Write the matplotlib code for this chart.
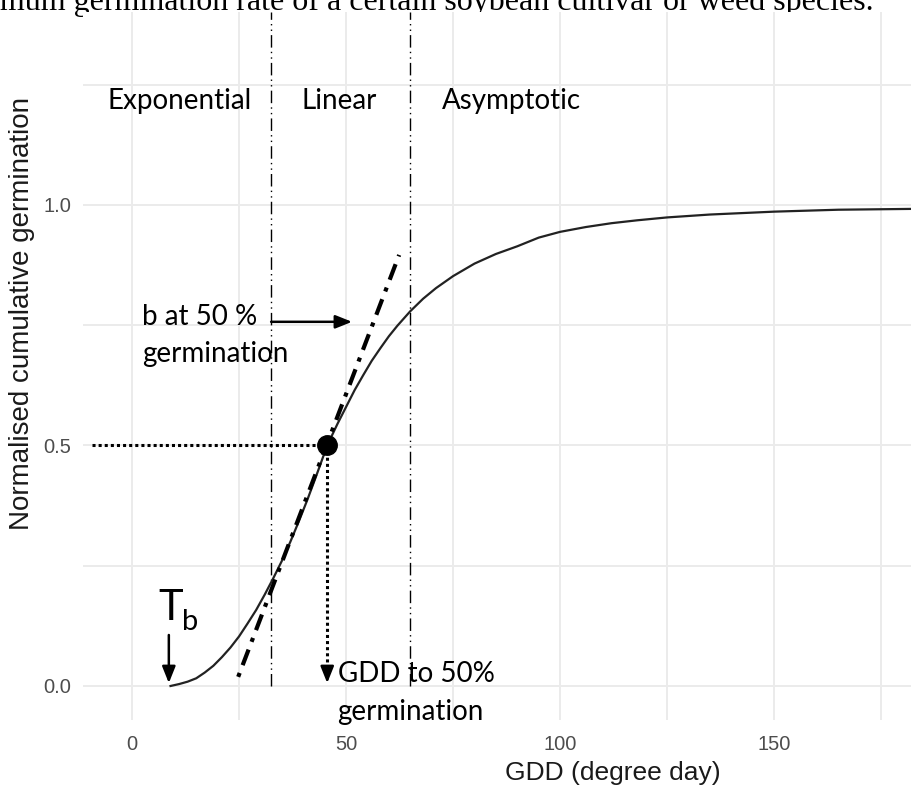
import matplotlib
matplotlib.use('Agg')
import matplotlib.pyplot as plt

# germination curve
gdd = [9, 11, 13, 15, 17, 19, 21, 23, 25, 27, 29, 31, 33, 35, 37, 39, 41, 43, 45.6,
       48, 50, 52, 54, 56, 58, 60, 62, 65, 68, 71, 75, 80, 85, 90, 95, 100, 106, 112,
       118, 125, 135, 150, 165, 185]
germ = [0, 0.004, 0.009, 0.016, 0.028, 0.042, 0.06, 0.08, 0.103, 0.13, 0.158, 0.19, 0.224,
        0.26, 0.3, 0.343, 0.388, 0.436, 0.5,
        0.545, 0.58, 0.615, 0.646, 0.676, 0.702, 0.727, 0.749, 0.779, 0.805, 0.827, 0.852,
        0.878, 0.898, 0.914, 0.932, 0.944, 0.954, 0.962, 0.968, 0.974, 0.98, 0.986, 0.99,
        0.992]

# tangent at 50 % germination
tan_x = [24.8, 62.4]
tan_y = [0.019, 0.896]

t_base = 8.6        # base temperature point
gdd50 = 45.6        # GDD to 50 % germination
phase_bounds = [32.5, 65]

phase_names = ['Exponential', 'Linear', 'Asymptotic']
phase_x = [-5.8, 39.7, 72.4]

x_major = [0, 50, 100, 150]
x_minor = [25, 75, 125, 175]
y_major = [0, 0.5, 1.0]
y_labels = ['0.0', '0.5', '1.0']
y_minor = [0.25, 0.75, 1.25]

caption = 'imum germination rate of a certain soybean cultivar or weed species.'

W, H = 912, 785
fig = plt.figure(figsize=(W / 100, H / 100), dpi=100)
ax = fig.add_axes([83 / W, 65 / H, 829 / W, 708 / H])
ax.set_zorder(5)

ax.set_xlim(-11.45, 182.2)
ax.set_ylim(-0.0707, 1.401)

ax.set_xticks(x_major)
ax.set_xticks(x_minor, minor=True)
ax.set_yticks(y_major)
ax.set_yticklabels(y_labels)
ax.set_yticks(y_minor, minor=True)
ax.grid(True, which='both', color='#EBEBEB', lw=1.4)
ax.set_axisbelow(True)
for s in ax.spines.values():
    s.set_visible(False)
ax.tick_params(which='both', length=0)
ax.tick_params(axis='x', pad=10.5, labelsize=14.5, labelcolor='#4D4D4D')
ax.tick_params(axis='y', pad=8.5, labelsize=14.5, labelcolor='#4D4D4D')
for lab in ax.get_xticklabels() + ax.get_yticklabels():
    lab.set_fontfamily('Liberation Sans')

# phase boundaries
for xb in phase_bounds:
    ax.plot([xb, xb], [0, 1.401], color='black', lw=1.0, dashes=(9, 3, 1, 3, 1, 3))

# curve
ax.plot(gdd, germ, color='#222222', lw=1.6, zorder=3)

# tangent
ax.plot(tan_x, tan_y, color='black', lw=3, dashes=(1, 2, 4, 2), dash_capstyle='butt', zorder=4)

# 50 % guides
ax.plot([-9.3, gdd50], [0.5, 0.5], color='black', lw=2.2, dashes=(1, 1), zorder=4)
ax.plot([gdd50, gdd50], [0.5, 0.03], color='black', lw=2.2, dashes=(1, 1), zorder=4)
ax.plot(gdd50, 0.5, 'o', color='black', ms=14, zorder=6)

arrow = dict(arrowstyle='-|>,head_length=0.5,head_width=0.2', lw=1.8, color='black',
             shrinkA=0, shrinkB=0, mutation_scale=20)
ax.annotate('', xy=(gdd50, 0.006), xytext=(gdd50, 0.036), arrowprops=arrow)
ax.annotate('', xy=(t_base, 0.006), xytext=(t_base, 0.106), arrowprops=arrow)
ax.annotate('', xy=(51.4, 0.757), xytext=(32.5, 0.757), arrowprops=arrow)

fnt = 'Lato'
for name, px in zip(phase_names, phase_x):
    ax.text(px, 1.2, name, fontsize=20, family=fnt, va='baseline', zorder=7)
ax.text(2.3, 0.7505, 'b at 50 %', fontsize=20, family=fnt, va='baseline', zorder=7)
ax.text(2.3, 0.674, 'germination', fontsize=20, family=fnt, va='baseline', zorder=7)
ax.text(48.1, 0.0083, 'GDD to 50%', fontsize=20, family=fnt, va='baseline', zorder=7)
ax.text(47.9, -0.0707, 'germination', fontsize=20, family=fnt, va='baseline', zorder=7)
ax.text(6.1, 0.137, 'T', fontsize=30, family=fnt, va='baseline', zorder=7)
ax.text(11.7, 0.116, 'b', fontsize=21, family=fnt, va='baseline', zorder=7)

fig.text(613 / W, 1 - 773 / H, 'GDD (degree day)', fontsize=19, family='Liberation Sans',
         ha='center', va='center', color='#1A1A1A')
fig.text(22 / W, 1 - 314 / H, 'Normalised cumulative germination', fontsize=20,
         family='Liberation Sans', rotation=90, ha='center', va='center', color='#1A1A1A')

fig.text(874 / W, 1 - 10 / H, caption, fontsize=23, family='Liberation Serif',
         ha='right', va='baseline', zorder=1)

fig.savefig('out.png', dpi=100)
